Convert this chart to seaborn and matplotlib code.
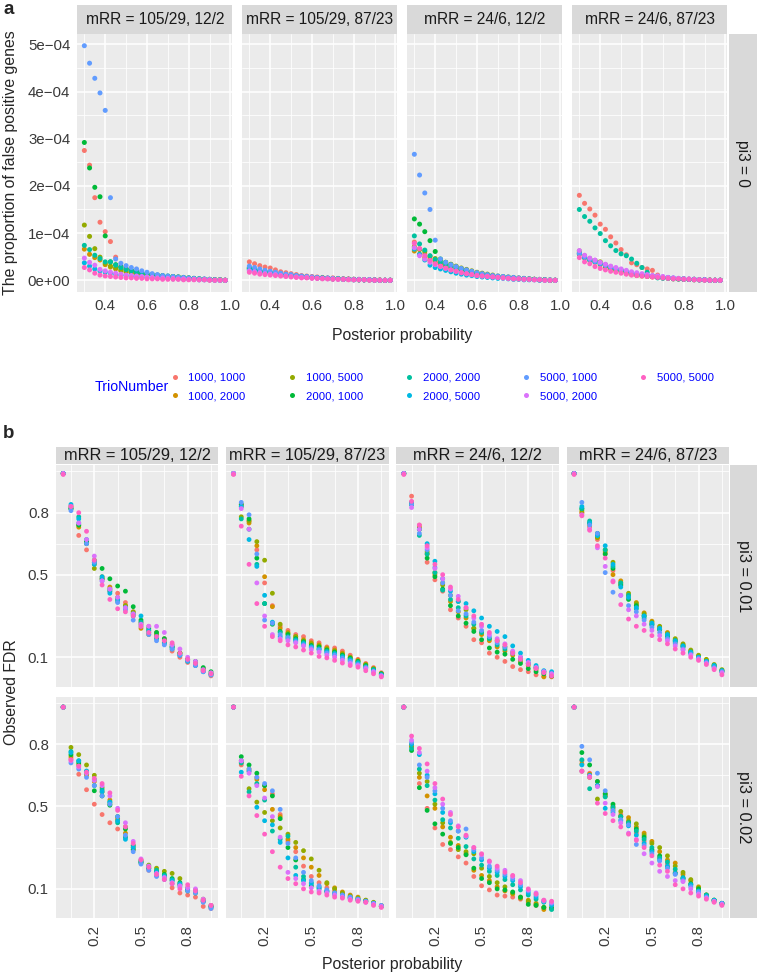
import matplotlib
matplotlib.use("Agg")
import matplotlib.pyplot as plt
import pandas as pd
import seaborn as sns
from matplotlib.lines import Line2D

sns.set_style("darkgrid")
plt.rcParams['font.family'] = ['Liberation Sans', 'DejaVu Sans']

W, H = 757, 975

trio_levels = ["1000, 1000", "1000, 2000", "1000, 5000", "2000, 1000", "2000, 2000",
               "2000, 5000", "5000, 1000", "5000, 2000", "5000, 5000"]
trio_colors = ["#F8766D", "#D39200", "#93AA00", "#00BA38", "#00C19F",
               "#00B9E3", "#619CFF", "#DB72FB", "#FF61C3"]
mrr_labels = ["mRR = 105/29, 12/2", "mRR = 105/29, 87/23", "mRR = 24/6, 12/2", "mRR = 24/6, 87/23"]

# ---- panel a: proportion of false positive genes (units of 1e-4), pi3 = 0 ----
pp_a = [0.300, 0.325, 0.350, 0.375, 0.400, 0.425, 0.450, 0.475, 0.500, 0.525, 0.550, 0.575, 0.600, 0.625,
        0.650, 0.675, 0.700, 0.725, 0.750, 0.775, 0.800, 0.825, 0.850, 0.875, 0.900, 0.925, 0.950, 0.975]

fp_a1 = [
    [2.75, 2.44, 1.75, 1.23, 1.03, .82, .49, .30, .25, .21, .18, .15, .13, .11, .10, .09, .08, .07, .06, .05, .04, .03, .02, .02, .01, .01, .01, 0],
    [.66, .55, .48, .43, .33, .28, .24, .20, .17, .15, .13, .12, .11, .10, .09, .08, .07, .06, .05, .05, .04, .03, .02, .02, .01, .01, .01, 0],
    [1.17, .93, .67, .49, .36, .30, .26, .22, .19, .17, .15, .14, .12, .11, .10, .09, .08, .08, .07, .06, .05, .04, .03, .02, .02, .01, .01, 0],
    [2.92, 2.38, 1.97, 1.77, .94, .39, .33, .28, .24, .21, .18, .16, .14, .12, .11, .10, .09, .08, .07, .06, .05, .04, .03, .02, .02, .01, .01, 0],
    [.74, .65, .53, .46, .39, .39, .32, .27, .23, .20, .17, .15, .13, .12, .10, .09, .08, .07, .06, .05, .04, .03, .03, .02, .01, .01, 0, 0],
    [.37, .30, .24, .20, .17, .15, .13, .11, .10, .09, .08, .07, .06, .05, .05, .04, .04, .03, .03, .02, .02, .02, .01, .01, .01, 0, 0, 0],
    [4.97, 4.60, 4.28, 3.97, 3.60, 1.75, .45, .36, .31, .27, .24, .20, .17, .14, .12, .10, .09, .08, .07, .06, .05, .04, .03, .03, .02, .01, .01, 0],
    [.47, .38, .32, .23, .20, .17, .15, .13, .11, .10, .09, .08, .07, .06, .05, .05, .04, .04, .03, .03, .02, .02, .01, .01, .01, 0, 0, 0],
    [.27, .22, .15, .11, .09, .08, .07, .06, .05, .05, .04, .04, .03, .03, .03, .02, .02, .02, .02, .01, .01, .01, .01, .01, 0, 0, 0, 0],
]
fp_a2 = [
    [.39, .35, .31, .28, .26, .22, .18, .16, .14, .12, .10, .09, .08, .07, .06, .05, .05, .04, .03, .03, .02, .02, .01, .01, .01, .01, 0, 0],
    [.26, .23, .20, .18, .16, .14, .12, .11, .10, .09, .08, .07, .06, .05, .05, .04, .04, .03, .03, .02, .02, .01, .01, .01, .01, 0, 0, 0],
    [.25, .22, .20, .18, .16, .14, .12, .11, .10, .09, .08, .07, .06, .05, .05, .04, .03, .03, .02, .02, .02, .01, .01, .01, 0, 0, 0, 0],
    [.24, .21, .19, .17, .15, .13, .12, .10, .09, .08, .07, .06, .06, .05, .04, .04, .03, .03, .02, .02, .01, .01, .01, .01, 0, 0, 0, 0],
    [.27, .24, .21, .19, .17, .15, .13, .11, .10, .09, .08, .07, .06, .05, .05, .04, .03, .03, .02, .02, .02, .01, .01, .01, 0, 0, 0, 0],
    [.22, .20, .18, .16, .14, .13, .11, .10, .09, .08, .07, .06, .05, .05, .04, .04, .03, .03, .02, .02, .01, .01, .01, .01, 0, 0, 0, 0],
    [.30, .27, .24, .21, .19, .17, .15, .13, .12, .10, .09, .08, .07, .06, .05, .05, .04, .03, .03, .02, .02, .02, .01, .01, .01, 0, 0, 0],
    [.20, .18, .16, .14, .13, .12, .10, .09, .08, .07, .06, .06, .05, .04, .04, .03, .03, .02, .02, .02, .01, .01, .01, .01, 0, 0, 0, 0],
    [.17, .15, .13, .12, .11, .10, .09, .08, .07, .06, .05, .05, .04, .04, .03, .03, .02, .02, .02, .01, .01, .01, .01, 0, 0, 0, 0, 0],
]
fp_a3 = [
    [.81, .67, .56, .47, .40, .35, .31, .27, .23, .20, .17, .15, .13, .11, .10, .08, .07, .06, .05, .04, .04, .03, .02, .02, .01, .01, 0, 0],
    [.62, .55, .48, .42, .37, .33, .29, .25, .22, .19, .17, .15, .13, .11, .09, .08, .07, .06, .05, .04, .03, .03, .02, .02, .01, .01, 0, 0],
    [.71, .65, .61, .51, .46, .43, .38, .34, .30, .26, .23, .20, .17, .15, .13, .11, .09, .08, .07, .06, .05, .04, .03, .02, .02, .01, .01, 0],
    [1.30, 1.19, 1.03, .84, .61, .45, .38, .33, .28, .24, .21, .18, .15, .13, .11, .09, .08, .07, .06, .05, .04, .03, .03, .02, .01, .01, 0, 0],
    [.94, .77, .64, .52, .44, .38, .33, .29, .25, .22, .19, .16, .14, .12, .10, .09, .08, .07, .06, .05, .04, .03, .02, .02, .01, .01, 0, 0],
    [.66, .55, .43, .32, .27, .24, .21, .18, .15, .13, .11, .10, .08, .07, .06, .05, .04, .04, .03, .02, .02, .01, .01, .01, 0, 0, 0, 0],
    [2.67, 2.23, 1.85, 1.50, .85, .45, .38, .33, .29, .25, .22, .19, .16, .14, .12, .10, .09, .08, .07, .06, .05, .04, .03, .02, .02, .01, .01, 0],
    [.69, .52, .45, .38, .33, .29, .25, .22, .19, .16, .14, .12, .10, .09, .08, .07, .06, .05, .04, .03, .03, .02, .02, .01, .01, 0, 0, 0],
    [.78, .67, .52, .42, .35, .30, .26, .22, .19, .16, .14, .12, .10, .09, .08, .07, .06, .05, .04, .03, .03, .02, .02, .01, .01, 0, 0, 0],
]
fp_a4 = [
    [1.80, 1.63, 1.51, 1.38, 1.19, 1.08, .92, .79, .65, .54, .37, .33, .27, .24, .21, .11, .06, .05, .04, .03, .03, .02, .02, .01, .01, .01, 0, 0],
    [.55, .47, .42, .38, .33, .28, .24, .20, .17, .14, .12, .10, .09, .08, .07, .06, .05, .04, .03, .03, .02, .02, .01, .01, .01, 0, 0, 0],
    [.62, .52, .46, .42, .39, .33, .29, .25, .21, .18, .15, .13, .11, .10, .08, .07, .06, .05, .04, .03, .03, .02, .02, .01, .01, 0, 0, 0],
    [.58, .50, .44, .40, .36, .31, .27, .23, .20, .17, .14, .12, .11, .09, .08, .07, .06, .05, .04, .03, .02, .02, .02, .01, .01, 0, 0, 0],
    [1.50, 1.35, 1.25, 1.11, .99, .84, .73, .63, .56, .52, .45, .36, .27, .17, .09, .05, .04, .04, .03, .03, .02, .02, .01, .01, .01, 0, 0, 0],
    [.56, .48, .43, .39, .35, .31, .27, .24, .21, .18, .15, .13, .11, .10, .09, .08, .06, .05, .04, .03, .03, .02, .02, .01, .01, 0, 0, 0],
    [.57, .50, .45, .40, .36, .32, .28, .25, .22, .19, .16, .14, .12, .10, .09, .08, .07, .06, .05, .04, .03, .02, .02, .01, .01, 0, 0, 0],
    [.63, .53, .47, .43, .38, .34, .30, .27, .24, .21, .18, .16, .14, .12, .10, .09, .08, .06, .05, .04, .03, .03, .02, .01, .01, 0, 0, 0],
    [.48, .39, .35, .29, .25, .22, .19, .17, .15, .13, .11, .10, .09, .08, .07, .06, .05, .04, .03, .03, .02, .02, .01, .01, 0, 0, 0, 0],
]

# ---- panel b: observed FDR ----
pp_b = [0.00, 0.05, 0.10, 0.15, 0.20, 0.25, 0.30, 0.35, 0.40, 0.45,
        0.50, 0.55, 0.60, 0.65, 0.70, 0.75, 0.80, 0.85, 0.90, 0.95]

fdr_01_1 = [
    [.99, .83, .69, .62, .56, .48, .42, .41, .365, .32, .27, .25, .22, .19, .13, .10, .075, .06, .04, .01],
    [.99, .83, .73, .65, .55, .49, .44, .38, .35, .31, .24, .21, .20, .17, .15, .12, .09, .07, .04, .02],
    [.99, .82, .74, .66, .53, .48, .43, .39, .35, .32, .26, .23, .21, .18, .16, .12, .09, .07, .045, .02],
    [.99, .82, .74, .66, .57, .53, .48, .445, .42, .345, .28, .24, .22, .19, .15, .12, .09, .08, .05, .03],
    [.99, .82, .78, .65, .56, .48, .42, .37, .34, .30, .27, .22, .19, .17, .14, .11, .085, .065, .035, .02],
    [.99, .84, .77, .67, .55, .49, .41, .38, .34, .31, .30, .23, .20, .165, .15, .11, .08, .06, .03, .015],
    [.99, .81, .75, .65, .56, .47, .43, .365, .33, .28, .25, .21, .18, .16, .14, .11, .085, .06, .03, .015],
    [.99, .83, .75, .67, .59, .47, .43, .39, .34, .31, .26, .25, .25, .22, .16, .14, .10, .08, .04, .025],
    [.985, .83, .80, .71, .57, .45, .38, .335, .32, .30, .25, .22, .20, .18, .17, .12, .09, .07, .035, .02],
]
fdr_01_2 = [
    [.99, .84, .76, .62, .46, .35, .25, .23, .21, .20, .18, .17, .15, .145, .13, .11, .09, .07, .05, .025],
    [.99, .83, .75, .64, .49, .345, .24, .22, .20, .185, .17, .16, .145, .135, .12, .10, .085, .065, .045, .02],
    [.99, .78, .76, .66, .57, .41, .26, .215, .20, .18, .165, .155, .14, .13, .115, .10, .08, .065, .045, .02],
    [.99, .84, .77, .58, .36, .26, .225, .21, .19, .175, .157, .15, .135, .125, .11, .095, .08, .06, .04, .02],
    [.99, .77, .72, .55, .36, .265, .22, .20, .185, .17, .15, .14, .13, .12, .105, .09, .075, .055, .04, .015],
    [.99, .83, .67, .54, .40, .27, .20, .19, .18, .165, .15, .14, .125, .115, .10, .085, .07, .05, .035, .015],
    [.99, .85, .79, .60, .28, .265, .21, .195, .175, .16, .145, .135, .12, .11, .095, .08, .065, .05, .03, .01],
    [.99, .82, .72, .46, .30, .21, .19, .18, .17, .155, .137, .125, .11, .10, .085, .07, .06, .045, .03, .01],
    [.985, .735, .55, .36, .25, .20, .18, .16, .15, .135, .12, .104, .097, .085, .072, .06, .052, .035, .02, .005],
]
fdr_01_3 = [
    [.99, .88, .74, .56, .475, .42, .33, .29, .25, .185, .17, .12, .10, .08, .055, .04, .03, .015, .008, .005],
    [.99, .85, .73, .60, .50, .46, .37, .32, .29, .24, .21, .18, .15, .13, .11, .08, .06, .04, .005, .008],
    [.99, .85, .72, .61, .51, .45, .40, .37, .33, .24, .22, .19, .18, .15, .125, .10, .07, .05, .03, .02],
    [.99, .84, .72, .58, .49, .43, .35, .30, .265, .225, .185, .145, .125, .115, .09, .07, .045, .03, .02, .01],
    [.99, .84, .69, .60, .51, .425, .38, .34, .30, .26, .22, .19, .16, .14, .12, .09, .07, .05, .03, .02],
    [.99, .85, .72, .65, .565, .48, .42, .37, .36, .325, .29, .25, .225, .20, .155, .12, .085, .06, .035, .03],
    [.99, .84, .70, .62, .535, .46, .40, .325, .31, .27, .23, .20, .17, .15, .12, .10, .07, .05, .03, .02],
    [.99, .825, .72, .63, .53, .48, .43, .395, .34, .29, .25, .21, .19, .165, .13, .10, .075, .05, .03, .02],
    [.985, .855, .74, .64, .55, .50, .44, .38, .34, .30, .26, .22, .18, .16, .12, .09, .065, .045, .025, .01],
]
fdr_01_4 = [
    [.99, .80, .73, .67, .60, .52, .45, .39, .35, .30, .26, .235, .20, .17, .15, .12, .10, .08, .055, .03],
    [.99, .80, .74, .68, .61, .50, .47, .40, .365, .315, .275, .245, .22, .185, .16, .13, .105, .085, .06, .035],
    [.99, .81, .75, .68, .62, .56, .46, .41, .36, .31, .27, .25, .215, .19, .165, .135, .11, .09, .065, .04],
    [.99, .82, .75, .70, .60, .53, .45, .38, .35, .30, .26, .235, .205, .18, .155, .125, .10, .08, .06, .035],
    [.99, .82, .76, .69, .62, .54, .46, .40, .335, .29, .255, .235, .20, .175, .15, .12, .10, .08, .055, .03],
    [.99, .83, .75, .69, .64, .55, .44, .39, .34, .30, .265, .24, .21, .18, .155, .125, .10, .08, .06, .035],
    [.99, .85, .74, .70, .51, .415, .40, .35, .32, .28, .245, .22, .19, .165, .14, .115, .095, .075, .05, .03],
    [.99, .79, .72, .63, .54, .47, .40, .33, .30, .26, .23, .205, .18, .155, .135, .11, .09, .07, .045, .025],
    [.985, .785, .715, .64, .58, .465, .355, .285, .25, .23, .205, .185, .165, .14, .12, .10, .085, .065, .04, .015],
]
fdr_02_1 = [
    [.98, .73, .655, .58, .51, .46, .42, .39, .35, .29, .23, .19, .165, .15, .105, .08, .07, .06, .015, .005],
    [.98, .74, .70, .65, .62, .57, .53, .44, .37, .31, .24, .20, .18, .16, .14, .12, .10, .085, .04, .015],
    [.98, .785, .75, .70, .65, .59, .51, .43, .40, .30, .23, .215, .20, .185, .175, .15, .105, .095, .05, .02],
    [.98, .75, .71, .66, .575, .55, .505, .45, .39, .29, .225, .20, .185, .17, .15, .13, .09, .08, .04, .015],
    [.98, .765, .72, .67, .60, .58, .52, .42, .35, .31, .235, .21, .19, .165, .145, .12, .095, .085, .045, .015],
    [.98, .76, .72, .67, .63, .57, .52, .43, .34, .30, .23, .20, .18, .16, .14, .125, .10, .09, .04, .01],
    [.98, .71, .68, .64, .60, .55, .51, .45, .36, .28, .22, .19, .16, .145, .125, .11, .09, .08, .035, .005],
    [.98, .72, .69, .66, .625, .60, .55, .49, .42, .33, .245, .21, .175, .155, .13, .115, .105, .10, .05, .02],
    [.98, .725, .695, .665, .635, .61, .565, .48, .40, .32, .24, .205, .17, .145, .125, .10, .12, .09, .045, .02],
]
fdr_02_2 = [
    [.98, .70, .67, .64, .60, .56, .46, .33, .28, .21, .16, .13, .105, .09, .075, .06, .05, .04, .03, .015],
    [.98, .71, .68, .63, .58, .485, .45, .34, .30, .25, .205, .165, .125, .105, .085, .07, .06, .045, .03, .015],
    [.98, .72, .585, .52, .47, .43, .395, .365, .325, .285, .245, .19, .13, .10, .08, .065, .055, .045, .035, .02],
    [.98, .74, .70, .66, .60, .55, .44, .30, .24, .145, .115, .10, .085, .075, .065, .055, .045, .04, .03, .015],
    [.98, .71, .57, .61, .53, .38, .34, .355, .205, .16, .13, .11, .09, .08, .07, .06, .05, .04, .03, .015],
    [.98, .665, .67, .495, .43, .41, .325, .25, .165, .14, .125, .105, .09, .075, .065, .055, .05, .04, .03, .015],
    [.98, .72, .68, .64, .61, .575, .485, .32, .25, .18, .14, .115, .095, .08, .07, .06, .05, .04, .03, .02],
    [.98, .72, .66, .60, .54, .45, .35, .18, .15, .125, .105, .09, .08, .07, .06, .05, .045, .035, .025, .015],
    [.98, .645, .55, .455, .365, .28, .205, .15, .125, .10, .085, .08, .07, .06, .055, .045, .04, .035, .02, .01],
]
fdr_02_3 = [
    [.98, .79, .61, .49, .395, .315, .29, .255, .225, .16, .115, .095, .07, .065, .06, .05, .035, .02, .01, .005],
    [.98, .80, .64, .55, .49, .40, .35, .31, .27, .19, .165, .14, .11, .09, .075, .06, .045, .03, 0, .005],
    [.98, .79, .66, .62, .51, .42, .325, .29, .28, .27, .20, .16, .13, .11, .08, .055, .04, .025, .01, .01],
    [.98, .77, .59, .48, .415, .365, .32, .30, .265, .20, .15, .13, .10, .095, .085, .06, .025, .02, .01, .005],
    [.98, .78, .68, .60, .53, .435, .395, .345, .305, .245, .215, .185, .165, .145, .12, .095, .07, .05, .035, 0],
    [.98, .80, .75, .65, .56, .47, .42, .38, .35, .28, .24, .20, .18, .16, .14, .11, .08, .06, .04, .02],
    [.98, .81, .70, .64, .575, .49, .43, .38, .39, .29, .25, .21, .19, .17, .15, .12, .09, .07, .04, .03],
    [.98, .82, .76, .67, .59, .51, .47, .405, .355, .30, .265, .23, .20, .19, .16, .14, .095, .08, .045, .035],
    [.98, .84, .78, .705, .61, .535, .46, .40, .36, .30, .27, .235, .21, .18, .165, .13, .10, .075, .045, .04],
]
fdr_02_4 = [
    [.98, .72, .66, .62, .55, .48, .46, .42, .37, .33, .285, .25, .22, .18, .15, .12, .09, .065, .04, .025],
    [.98, .705, .655, .60, .56, .50, .45, .445, .40, .37, .33, .28, .24, .225, .17, .14, .11, .07, .045, .03],
    [.98, .67, .64, .535, .55, .49, .475, .43, .415, .36, .32, .30, .26, .21, .18, .145, .105, .07, .045, .03],
    [.98, .76, .70, .62, .56, .51, .45, .42, .39, .35, .29, .26, .205, .175, .15, .125, .10, .07, .045, .03],
    [.98, .725, .585, .60, .545, .495, .45, .42, .38, .34, .30, .25, .23, .195, .155, .12, .085, .07, .045, .03],
    [.98, .70, .65, .60, .49, .47, .43, .405, .36, .32, .28, .24, .21, .175, .15, .12, .09, .065, .045, .03],
    [.98, .79, .725, .66, .575, .48, .435, .41, .315, .31, .27, .235, .20, .17, .14, .11, .085, .06, .04, .03],
    [.98, .67, .645, .595, .515, .46, .42, .37, .34, .27, .225, .185, .16, .14, .135, .10, .075, .055, .04, .025],
    [.98, .67, .64, .515, .465, .43, .40, .365, .335, .30, .26, .215, .185, .12, .10, .08, .065, .05, .035, .02],
]


def long_table(xs, facets, scale=1.0):
    rows = []
    for mrr, series in zip(mrr_labels, facets):
        for trio, vals in zip(trio_levels, series):
            for x, v in zip(xs, vals):
                rows.append({"mRR": mrr, "TrioNumber": trio, "pp": x, "val": v * scale})
    return pd.DataFrame(rows)


df_a = long_table(pp_a, [fp_a1, fp_a2, fp_a3, fp_a4], 1e-4)
df_b1 = long_table(pp_b, [fdr_01_1, fdr_01_2, fdr_01_3, fdr_01_4])
df_b2 = long_table(pp_b, [fdr_02_1, fdr_02_2, fdr_02_3, fdr_02_4])

fig = plt.figure(figsize=(W / 100, H / 100), dpi=100)


def px_axes(x0, y0, x1, y1):
    return fig.add_axes([x0 / W, 1 - y1 / H, (x1 - x0) / W, (y1 - y0) / H])


def strip(x0, y0, x1, y1, label, rot=0, size=11):
    sa = px_axes(x0, y0, x1, y1)
    sa.set_facecolor("#D9D9D9")
    sa.set_xticks([])
    sa.set_yticks([])
    sa.grid(False)
    for s in sa.spines.values():
        s.set_visible(False)
    sa.text(0.5, 0.5, label, rotation=rot, ha="center", va="center",
            color="#1A1A1A", fontsize=size, transform=sa.transAxes)


def panel(ax, xlim, ylim, xmaj, xmin, ymaj, ymin):
    ax.set_facecolor("#EBEBEB")
    ax.set_xlim(xlim)
    ax.set_ylim(ylim)
    ax.set_xticks(xmaj)
    ax.set_xticks(xmin, minor=True)
    ax.set_yticks(ymaj)
    ax.set_yticks(ymin, minor=True)
    ax.grid(which="major", color="white", lw=1.1)
    ax.grid(which="minor", color="white", lw=0.55)
    ax.set_axisbelow(True)
    for s in ax.spines.values():
        s.set_visible(False)
    ax.tick_params(which="major", length=3, width=0.8, color="#333333",
                   labelsize=10.8, labelcolor="#3A3A3A", pad=2)
    ax.tick_params(which="minor", length=0)
    ax.set_xlabel("")
    ax.set_ylabel("")


# ---- panel a ----
a_left = [77.3, 242.3, 407.3, 572.3]
for i, (mrr, x0) in enumerate(zip(mrr_labels, a_left)):
    ax = px_axes(x0, 34, x0 + 155, 292)
    sns.scatterplot(data=df_a[df_a.mRR == mrr], x="pp", y="val", hue="TrioNumber",
                    hue_order=trio_levels, palette=trio_colors, s=13, linewidth=0,
                    legend=False, ax=ax)
    panel(ax, (0.26625, 1.00875), (-0.2485e-4, 5.2185e-4),
          [0.4, 0.6, 0.8, 1.0], [0.3, 0.5, 0.7, 0.9],
          [0, 1e-4, 2e-4, 3e-4, 4e-4, 5e-4], [0.5e-4, 1.5e-4, 2.5e-4, 3.5e-4, 4.5e-4])
    ax.set_xticklabels(["0.4", "0.6", "0.8", "1.0"])
    if i == 0:
        ax.set_yticklabels(["0e+00", "1e\u221204", "2e\u221204", "3e\u221204", "4e\u221204", "5e\u221204"])
    else:
        ax.tick_params(axis="y", which="major", length=0, labelleft=False)
    strip(x0, 5, x0 + 155, 33.5, mrr, size=11.2)
strip(728.5, 34, 757, 292, "pi3 = 0", rot=270, size=11.2)

fig.text(11 / W, 1 - 163 / H, "The proportion of false positive genes", rotation=90,
         ha="center", va="center", fontsize=11.4)
fig.text(402 / W, 1 - 336 / H, "Posterior probability", ha="center", va="center", fontsize=11.4)
fig.text(3 / W, 1 - 1 / H, "a", ha="left", va="top", fontsize=13.5, fontweight="bold")

# legend
fig.text(95 / W, 1 - 387 / H, "TrioNumber", ha="left", va="center", fontsize=10.2, color="blue")
handles = [Line2D([], [], ls="", marker="o", ms=3.6, mec="none", mfc=c) for c in trio_colors]
fig.legend(handles, trio_levels, ncol=5, loc="center left",
           bbox_to_anchor=(168 / W, 1 - 387 / H), frameon=False, fontsize=8.2,
           labelcolor="blue", handlelength=1.2, handletextpad=0.6,
           columnspacing=3.45, labelspacing=0.75, borderpad=0, borderaxespad=0)

# ---- panel b ----
b_left = [55.8, 226.1, 396.4, 566.7]
rows_b = [(df_b1, 465.0, 686.8, "pi3 = 0.01"), (df_b2, 696.6, 918.4, "pi3 = 0.02")]
for r, (dfr, y0, y1, lab) in enumerate(rows_b):
    for i, (mrr, x0) in enumerate(zip(mrr_labels, b_left)):
        ax = px_axes(x0, y0, x0 + 162.6, y1)
        sns.scatterplot(data=dfr[dfr.mRR == mrr], x="pp", y="val", hue="TrioNumber",
                        hue_order=trio_levels, palette=trio_colors, s=12, linewidth=0,
                        legend=False, ax=ax)
        panel(ax, (-0.0475, 0.9975), (-0.043, 1.031),
              [0.2, 0.5, 0.8], [0.05, 0.35, 0.65, 0.95],
              [0.1, 0.5, 0.8], [0.3, 0.65, 1.0])
        if r == 1:
            ax.set_xticklabels(["0.2", "0.5", "0.8"], rotation=90)
        else:
            ax.tick_params(axis="x", which="major", length=0, labelbottom=False)
        if i == 0:
            ax.set_yticklabels(["0.1", "0.5", "0.8"])
        else:
            ax.tick_params(axis="y", which="major", length=0, labelleft=False)
        if r == 0:
            strip(x0, 446.5, x0 + 162.6, 464.3, mrr, size=11.8)
    strip(730, y0, 757, y1, lab, rot=270, size=11.8)

fig.text(12 / W, 1 - 692 / H, "Observed FDR", rotation=90, ha="center", va="center", fontsize=11.4)
fig.text(392 / W, 1 - 965 / H, "Posterior probability", ha="center", va="center", fontsize=11.4)
fig.text(3 / W, 1 - 425 / H, "b", ha="left", va="top", fontsize=13.5, fontweight="bold")

fig.savefig("out.png", dpi=100)
